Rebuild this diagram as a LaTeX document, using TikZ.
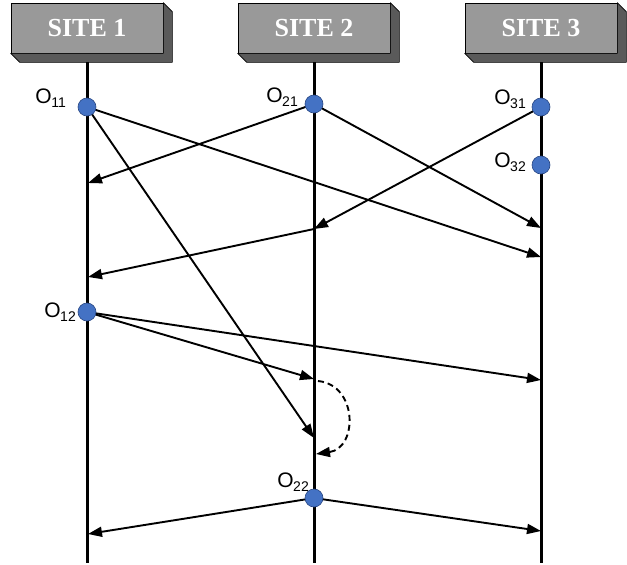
\documentclass[tikz,border=0pt]{standalone}
\usepackage{fontspec}
\setmainfont{Liberation Serif}
\newfontfamily\labfont{Liberation Sans}
\usetikzlibrary{arrows.meta}
\definecolor{boxfront}{RGB}{153,153,153}
\definecolor{boxside}{RGB}{90,90,90}
\definecolor{evfill}{RGB}{68,114,196}
\definecolor{evdraw}{RGB}{40,70,130}
\newcommand{\olab}[1]{{\labfont\fontsize{21}{21}\selectfont O\kern-0.5pt\raisebox{-4pt}{\fontsize{14}{14}\selectfont #1}}}
\tikzset{
  sitebox/.style={draw=black, line width=0.6pt, fill=boxfront, minimum width=152pt, minimum height=50pt, inner sep=0pt,
    text=white, font=\bfseries\fontsize{26}{26}\selectfont},
  extrude/.style={draw=black, line width=0.6pt, fill=boxside, line join=round},
  lifeline/.style={line width=3pt, black},
  msg/.style={line width=1.9pt, -{Triangle[length=14pt,width=10pt]}},
  dmsg/.style={line width=1.9pt, dash pattern=on 6pt off 4pt, -{Triangle[length=14pt,width=10pt]}},
  ev/.style={circle, draw=evdraw, line width=0.6pt, fill=evfill, minimum size=18pt, inner sep=0pt},
  evlab/.style={anchor=base east, inner sep=0pt}
}
\begin{document}
\begin{tikzpicture}[x=1pt,y=-1pt]
\useasboundingbox (0,0) rectangle (627,565);
% site boxes
\foreach \n/\cx/\t in {s1/87/SITE 1, s2/314/SITE 2, s3/541/SITE 3}{
  \node[sitebox] (\n) at (\cx,28) {\t};
  \path[extrude] (\n.north east) -- ++(9,9) -- ([shift={(9,9)}]\n.south east) -- ([shift={(9,9)}]\n.south west)
     -- (\n.south west) -- (\n.south east) -- cycle;
}
% lifeline ends
\coordinate (b1) at (87,563);
\coordinate (b2) at (314,563);
\coordinate (b3) at (541,563);
\draw[lifeline] ([shift={(0,9)}]s1.south) -- (b1);
\draw[lifeline] ([shift={(0,9)}]s2.south) -- (b2);
\draw[lifeline] ([shift={(0,9)}]s3.south) -- (b3);
% event positions
\coordinate (p11) at (87,107);
\coordinate (p21) at (314,104);
\coordinate (p31) at (541,107);
\coordinate (p32) at (541,165);
\coordinate (p12) at (87,312);
\coordinate (p22) at (314,498);
% message end points
\coordinate (e1) at (88,183);
\coordinate (e2) at (541,228);
\coordinate (e3) at (541,257);
\coordinate (r2) at (314,229);
\coordinate (e4) at (88,277);
\coordinate (e5) at (314,438);
\coordinate (e6) at (314,379);
\coordinate (e7) at (541,380);
\coordinate (d1) at (318,381);
\coordinate (d2) at (316,454);
\coordinate (e8) at (88,534);
\coordinate (e9) at (541,531);
% messages
\draw[msg] (p11) -- (e3);
\draw[msg] (p11) -- (e5);
\draw[msg] (p21) -- (e1);
\draw[msg] (p21) -- (e2);
\draw[msg] (p31) -- (r2);
\draw[msg] (r2) -- (e4);
\draw[msg] (p12) -- (e6);
\draw[msg] (p12) -- (e7);
\draw[dmsg] (d1) .. controls (358,385) and (358,448) .. (d2);
\draw[msg] (p22) -- (e8);
\draw[msg] (p22) -- (e9);
% events
\node[ev] (o11) at (p11) {};
\node[ev] (o21) at (p21) {};
\node[ev] (o31) at (p31) {};
\node[ev] (o32) at (p32) {};
\node[ev] (o12) at (p12) {};
\node[ev] (o22) at (p22) {};
% labels
\node[evlab] (l11) at (66,103) {\olab{11}};
\node[evlab] (l21) at (298,102) {\olab{21}};
\node[evlab] (l31) at (526,104) {\olab{31}};
\node[evlab] (l32) at (526,167) {\olab{32}};
\node[evlab] (l12) at (76,317) {\olab{12}};
\node[evlab] (l22) at (309,487) {\olab{22}};
\end{tikzpicture}
\end{document}
